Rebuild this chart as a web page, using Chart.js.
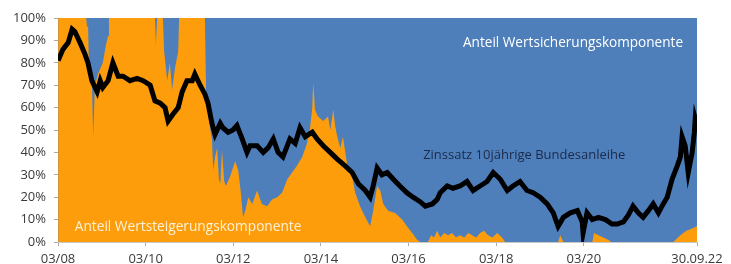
<!DOCTYPE html>
<html>
<head>
<meta charset="utf-8">
<script src="https://cdn.jsdelivr.net/npm/chart.js@4/dist/chart.umd.min.js"></script>
<style>
  html, body { margin: 0; padding: 0; background: #fff; }
  #wrap { width: 731px; height: 264px; }
</style>
</head>
<body>
<div id="wrap"><canvas id="chart" width="731" height="264"></canvas></div>
<script>
// x values are decimal years (03/08 = 2008.17, 30.09.22 = 2022.75)
const xTickValues = [2008.167, 2010.167, 2012.167, 2014.167, 2016.167, 2018.167, 2020.167, 2022.75];
const xTickLabels = ["03/08", "03/10", "03/12", "03/14", "03/16", "03/18", "03/20", "30.09.22"];

// Zinssatz 10jährige Bundesanleihe (as drawn against the % axis)
const yieldX = [2008.17, 2008.28, 2008.40, 2008.49, 2008.55, 2008.67, 2008.78, 2008.85, 2008.94, 2009.06,
  2009.13, 2009.19, 2009.31, 2009.42, 2009.54, 2009.65, 2009.81, 2009.97, 2010.11, 2010.27,
  2010.38, 2010.50, 2010.61, 2010.68, 2010.79, 2010.91, 2011.00, 2011.11, 2011.23, 2011.29,
  2011.41, 2011.52, 2011.59, 2011.68, 2011.75, 2011.87, 2011.93, 2012.05, 2012.16, 2012.25,
  2012.37, 2012.48, 2012.55, 2012.71, 2012.85, 2012.96, 2013.08, 2013.19, 2013.30, 2013.46,
  2013.58, 2013.69, 2013.81, 2013.97, 2014.08, 2014.22, 2014.38, 2014.54, 2014.72, 2014.88,
  2015.02, 2015.18, 2015.29, 2015.36, 2015.45, 2015.56, 2015.68, 2015.82, 2015.97, 2016.13,
  2016.27, 2016.43, 2016.55, 2016.71, 2016.82, 2016.89, 2017.05, 2017.18, 2017.34, 2017.50,
  2017.64, 2017.80, 2017.96, 2018.10, 2018.26, 2018.42, 2018.55, 2018.71, 2018.87, 2019.01,
  2019.17, 2019.33, 2019.47, 2019.58, 2019.70, 2019.86, 2020.02, 2020.13, 2020.15, 2020.24,
  2020.36, 2020.50, 2020.66, 2020.81, 2020.93, 2021.07, 2021.18, 2021.29, 2021.41, 2021.52,
  2021.64, 2021.75, 2021.87, 2021.98, 2022.07, 2022.18, 2022.30, 2022.37, 2022.41, 2022.48,
  2022.55, 2022.64, 2022.69, 2022.71, 2022.75];
const yieldY = [81, 86, 89, 95, 94, 89, 84, 80, 72, 67,
  72, 69, 72, 80, 74, 74, 72, 73, 72, 70,
  63, 62, 60, 54, 57, 60, 67, 72, 72, 75,
  70, 66, 62, 53, 48, 53, 51, 49, 50, 52,
  46, 40, 43, 43, 40, 42, 46, 40, 38, 46,
  44, 51, 47, 49, 46, 43, 40, 37, 34, 31,
  26, 23, 20, 25, 33, 30, 31, 28, 25, 22,
  20, 18, 16, 17, 19, 22, 25, 24, 25, 27,
  23, 25, 27, 31, 28, 23, 25, 27, 23, 22,
  20, 17, 13, 7, 11, 13, 14, 9, 4, 13,
  10, 11, 10, 8, 8, 9, 12, 16, 13, 11,
  14, 17, 13, 17, 20, 28, 34, 38, 47, 43,
  31, 40, 49, 55, 52];

// Anteil Wertsteigerungskomponente in %
const growthX = [2008.17, 2008.81, 2008.83, 2008.85, 2008.87, 2008.94, 2008.97, 2009.01, 2009.08, 2009.19,
  2009.26, 2009.31, 2009.33, 2010.38, 2010.40, 2010.43, 2010.56, 2010.59, 2010.66, 2010.72,
  2010.77, 2010.84, 2010.91, 2010.93, 2011.52, 2011.55, 2011.61, 2011.66, 2011.68, 2011.71,
  2011.75, 2011.80, 2011.84, 2011.87, 2011.91, 2011.96, 2012.00, 2012.09, 2012.21, 2012.28,
  2012.34, 2012.39, 2012.44, 2012.51, 2012.60, 2012.71, 2012.82, 2012.94, 2013.05, 2013.17,
  2013.28, 2013.40, 2013.51, 2013.62, 2013.74, 2013.85, 2013.92, 2013.97, 2013.99, 2014.01,
  2014.03, 2014.10, 2014.22, 2014.33, 2014.38, 2014.45, 2014.49, 2014.54, 2014.61, 2014.67,
  2014.77, 2014.88, 2014.95, 2015.06, 2015.18, 2015.29, 2015.36, 2015.45, 2015.52, 2015.59,
  2015.70, 2015.86, 2016.02, 2016.13, 2016.25, 2016.36, 2016.43, 2016.61, 2016.68, 2016.75,
  2016.82, 2016.89, 2016.98, 2017.07, 2017.16, 2017.25, 2017.34, 2017.44, 2017.53, 2017.62,
  2017.71, 2017.80, 2017.89, 2017.98, 2018.08, 2018.19, 2018.30, 2018.37, 2019.58, 2019.63,
  2019.70, 2020.36, 2020.40, 2020.50, 2020.61, 2020.72, 2020.79, 2022.21, 2022.37, 2022.51,
  2022.64, 2022.75];
const growthY = [100, 100, 96, 100, 80, 72, 47, 70, 75, 80,
  88, 92, 100, 100, 88, 100, 100, 85, 72, 80,
  68, 78, 85, 100, 100, 62, 55, 48, 46, 32,
  38, 42, 28, 26, 41, 27, 25, 29, 36, 32,
  22, 11, 14, 20, 17, 23, 17, 16, 19, 20,
  22, 28, 31, 34, 38, 44, 51, 60, 71, 66,
  59, 56, 54, 56, 50, 59, 52, 47, 42, 47,
  34, 29, 22, 16, 11, 7, 14, 25, 23, 17,
  14, 13, 10, 7, 4, 1, 0, 0, 3, 2,
  5, 2, 4, 3, 4, 2, 3, 2, 4, 3,
  2, 4, 5, 3, 2, 4, 2, 0, 0, 3,
  0, 0, 4, 3, 2, 1, 0, 0, 3, 5,
  6, 7];

// Anteil Wertsicherungskomponente fills the rest up to 100 %
const totalX = [2008.167, 2022.75];
const totalY = [100, 100];

const pts = (xs, ys) => xs.map((x, i) => ({ x: x, y: ys[i] }));

// text labels inside the plot
const labelPlugin = {
  id: "labels",
  afterDatasetsDraw(chart) {
    const ctx = chart.ctx;
    const xs = chart.scales.x, ys = chart.scales.y;
    ctx.save();
    ctx.textBaseline = "middle";
    ctx.textAlign = "left";
    ctx.font = "13.6px 'Open Sans', sans-serif";
    ctx.fillStyle = "#ffffff";
    ctx.fillText("Anteil Wertsicherungskomponente", xs.getPixelForValue(2017.41), ys.getPixelForValue(88.8));
    ctx.font = "13px 'Open Sans', sans-serif";
    ctx.fillStyle = "#1b2a4a";
    ctx.fillText("Zinssatz 10jährige Bundesanleihe", xs.getPixelForValue(2016.50), ys.getPixelForValue(38.8));
    ctx.font = "13.7px 'Open Sans', sans-serif";
    ctx.fillStyle = "#fff1d6";
    ctx.fillText("Anteil Wertsteigerungskomponente", xs.getPixelForValue(2008.55), ys.getPixelForValue(6.5));
    ctx.restore();
  }
};

new Chart(document.getElementById("chart"), {
  type: "line",
  data: {
    datasets: [
      {
        label: "Zinssatz 10jährige Bundesanleihe",
        data: pts(yieldX, yieldY),
        borderColor: "#000000",
        borderWidth: 5,
        pointRadius: 0,
        fill: false,
        order: 0
      },
      {
        label: "Anteil Wertsteigerungskomponente",
        data: pts(growthX, growthY),
        borderWidth: 0,
        borderColor: "rgba(0,0,0,0)",
        backgroundColor: "#fd9d0b",
        pointRadius: 0,
        fill: "origin",
        order: 1
      },
      {
        label: "Anteil Wertsicherungskomponente",
        data: pts(totalX, totalY),
        borderWidth: 0,
        borderColor: "rgba(0,0,0,0)",
        backgroundColor: "#4e7fbb",
        pointRadius: 0,
        fill: "origin",
        order: 2
      }
    ]
  },
  options: {
    responsive: false,
    animation: false,
    layout: { padding: { top: 18, right: 34, left: 0, bottom: 0 } },
    plugins: { legend: { display: false }, tooltip: { enabled: false } },
    scales: {
      x: {
        type: "linear",
        min: 2008.167,
        max: 2022.75,
        afterBuildTicks: (s) => { s.ticks = xTickValues.map(v => ({ value: v })); },
        afterFit: (s) => { s.height = 22; },
        grid: { display: true, drawOnChartArea: false, tickLength: 4, color: "#aaaaaa" },
        border: { display: true, color: "#c8c8c8" },
        ticks: {
          autoSkip: false,
          maxRotation: 0,
          padding: 5,
          color: "#3a3a3a",
          font: { family: "'Open Sans', sans-serif", size: 13 },
          callback: (v) => {
            const i = xTickValues.indexOf(v);
            return i >= 0 ? xTickLabels[i] : "";
          }
        }
      },
      y: {
        min: 0,
        max: 100,
        afterFit: (s) => { s.width = 58; },
        grid: { display: true, drawOnChartArea: false, tickLength: 4, color: "#aaaaaa" },
        border: { display: true, color: "#c8c8c8" },
        ticks: {
          stepSize: 10,
          padding: 8,
          color: "#3a3a3a",
          font: { family: "'Open Sans', sans-serif", size: 13 },
          callback: (v) => v + "%"
        }
      }
    }
  },
  plugins: [labelPlugin]
});
</script>
</body>
</html>
